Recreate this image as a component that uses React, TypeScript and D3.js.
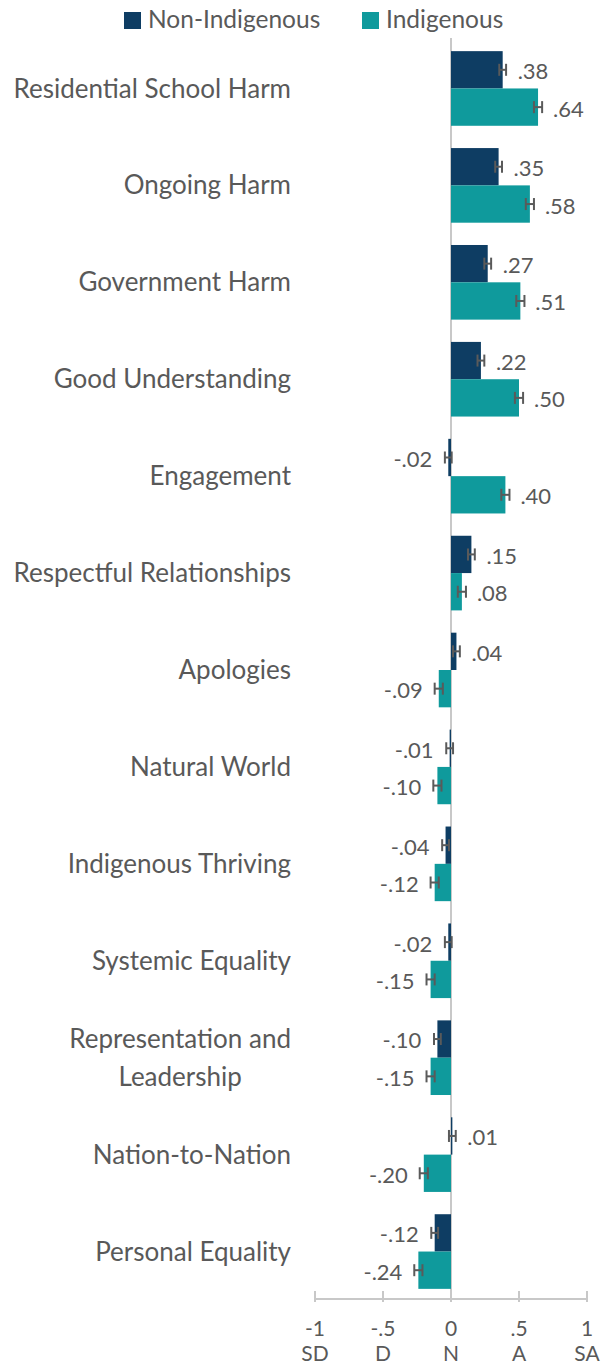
import React, { useEffect, useRef } from 'react'
import * as d3 from 'd3'

// categories top to bottom
const categories = [
  'Residential School Harm',
  'Ongoing Harm',
  'Government Harm',
  'Good Understanding',
  'Engagement',
  'Respectful Relationships',
  'Apologies',
  'Natural World',
  'Indigenous Thriving',
  'Systemic Equality',
  'Representation and|Leadership',
  'Nation-to-Nation',
  'Personal Equality',
]
const nonIndigenous = [0.38, 0.35, 0.27, 0.22, -0.02, 0.15, 0.04, -0.01, -0.04, -0.02, -0.1, 0.01, -0.12]
const indigenous = [0.64, 0.58, 0.51, 0.5, 0.4, 0.08, -0.09, -0.1, -0.12, -0.15, -0.15, -0.2, -0.24]
const errNon = [0.025, 0.025, 0.025, 0.025, 0.025, 0.025, 0.025, 0.025, 0.025, 0.025, 0.025, 0.025, 0.025]
const errInd = [0.03, 0.03, 0.03, 0.03, 0.03, 0.03, 0.03, 0.03, 0.03, 0.03, 0.03, 0.03, 0.03]
const seriesNames = ['Non-Indigenous', 'Indigenous']
const seriesColors = ['#0e3d63', '#0f9a9c']
const tickValues = [-1, -0.5, 0, 0.5, 1]
const tickLabels = ['-1', '-.5', '0', '.5', '1']
const tickWords = ['SD', 'D', 'N', 'A', 'SA']

const W = 608
const H = 1367
const FONT = 'Lato, "Open Sans", sans-serif'
const TEXT = '#595959'

const fmt = (v: number) => {
  const s = Math.abs(v).toFixed(2).replace(/^0/, '')
  return v < 0 ? '-' + s : s
}

export default function App() {
  const ref = useRef<SVGSVGElement>(null)

  useEffect(() => {
    const svg = d3.select(ref.current)
    svg.selectAll('*').remove()

    const x = d3.scaleLinear().domain([-1, 1]).range([315, 587])
    const y = d3.scaleBand().domain(categories).range([40, 1300]).paddingInner(0.23).paddingOuter(0.115)
    const sub = d3.scaleBand().domain(seriesNames).range([0, y.bandwidth()])

    // zero line
    svg.append('line')
      .attr('x1', x(0)).attr('x2', x(0))
      .attr('y1', 38).attr('y2', 1298)
      .attr('stroke', '#c8c8c8').attr('stroke-width', 2)

    const rows = categories.map((c, i) => ({
      c,
      vals: [
        { s: seriesNames[0], v: nonIndigenous[i], e: errNon[i] },
        { s: seriesNames[1], v: indigenous[i], e: errInd[i] },
      ],
    }))

    const g = svg.append('g')
    rows.forEach((r) => {
      const y0 = y(r.c)!
      r.vals.forEach((d, j) => {
        const top = y0 + sub(d.s)!
        const h = sub.bandwidth()
        const cy = top + h / 2
        g.append('rect')
          .attr('x', Math.min(x(0), x(d.v)))
          .attr('y', top)
          .attr('width', Math.abs(x(d.v) - x(0)))
          .attr('height', h)
          .attr('fill', seriesColors[j])
        // error bar
        const eb = g.append('g').attr('stroke', '#5a5a5a').attr('stroke-width', 2)
        const xl = x(d.v - d.e), xr = x(d.v + d.e)
        eb.append('line').attr('x1', xl).attr('x2', xr).attr('y1', cy).attr('y2', cy)
        eb.append('line').attr('x1', xl).attr('x2', xl).attr('y1', cy - 6).attr('y2', cy + 6)
        eb.append('line').attr('x1', xr).attr('x2', xr).attr('y1', cy - 6).attr('y2', cy + 6)
        // value label
        const pos = d.v >= 0
        g.append('text')
          .attr('x', pos ? x(d.v) + 15 : x(d.v) - 16)
          .attr('y', cy)
          .attr('dy', '0.43em')
          .attr('text-anchor', pos ? 'start' : 'end')
          .attr('font-family', FONT)
          .attr('font-size', 22)
          .attr('fill', TEXT)
          .text(fmt(d.v))
      })
      // category label
      const lines = r.c.split('|')
      const cy = y0 + y.bandwidth() / 2
      const lab = g.append('text')
        .attr('font-family', FONT)
        .attr('font-size', 26)
        .attr('fill', TEXT)
      if (lines.length === 1) {
        lab.attr('x', 291).attr('y', cy).attr('dy', '0.35em').attr('text-anchor', 'end').text(lines[0])
      } else {
        lab.attr('text-anchor', 'middle')
        lines.forEach((l, k) => {
          lab.append('tspan').attr('x', 0).attr('y', cy + (k - (lines.length - 1) / 2) * 38).attr('dy', '0.35em').text(l)
        })
        const w = (lab.node() as SVGTextElement).getBBox().width
        lab.selectAll('tspan').attr('x', 291 - w / 2)
      }
    })

    // x axis
    const axY = 1299
    const ax = svg.append('g')
    ax.append('line').attr('x1', x(-1)).attr('x2', x(1)).attr('y1', axY).attr('y2', axY)
      .attr('stroke', '#c8c8c8').attr('stroke-width', 2)
    tickValues.forEach((t, i) => {
      ax.append('line').attr('x1', x(t)).attr('x2', x(t)).attr('y1', axY - 8).attr('y2', axY + 3)
        .attr('stroke', '#c8c8c8').attr('stroke-width', 2)
      ax.append('text').attr('x', x(t)).attr('y', 1336).attr('text-anchor', 'middle')
        .attr('font-family', FONT).attr('font-size', 21).attr('fill', TEXT).text(tickLabels[i])
      ax.append('text').attr('x', x(t)).attr('y', 1361).attr('text-anchor', 'middle')
        .attr('font-family', FONT).attr('font-size', 21).attr('fill', TEXT).text(tickWords[i])
    })

    // legend
    const legX = [124, 362]
    seriesNames.forEach((s, i) => {
      svg.append('rect').attr('x', legX[i]).attr('y', 12).attr('width', 17).attr('height', 17)
        .attr('fill', seriesColors[i])
      svg.append('text').attr('x', legX[i] + 24).attr('y', 28)
        .attr('font-family', FONT).attr('font-size', 24.5).attr('fill', TEXT).text(s)
    })
  }, [])

  return (
    <svg ref={ref} width={W} height={H} style={{ position: 'absolute', left: 0, top: 0, background: '#fff' }} />
  )
}
